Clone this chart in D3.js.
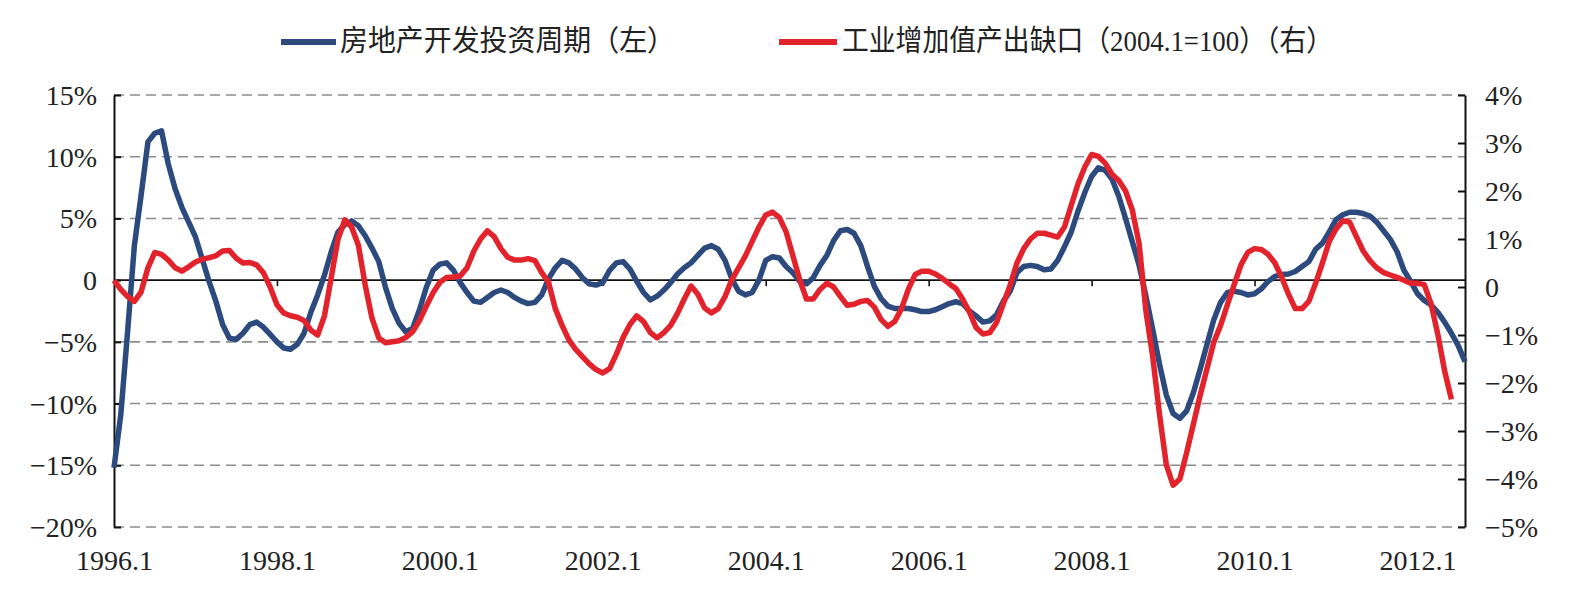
<!DOCTYPE html>
<html><head><meta charset="utf-8">
<script src="https://cdn.jsdelivr.net/npm/d3@7"></script>
<style>
html,body{margin:0;padding:0;background:#fff;}
svg{display:block;}
</style></head>
<body>
<svg id="chart" width="1586" height="598"></svg>
<script>
// ---- data (monthly, starting 1996.1) ----
const startYear = 1996;
const seriesNames = ["房地产开发投资周期（左）", "工业增加值产出缺口（2004.1=100）（右）"];
const xTickLabels = ["1996.1","1998.1","2000.1","2002.1","2004.1","2006.1","2008.1","2010.1","2012.1"];
const leftTicks = [15,10,5,0,-5,-10,-15,-20];
const rightTicks = [4,3,2,1,0,-1,-2,-3,-4,-5];

// 房地产开发投资周期 (%, left axis)
const investCycle = [
-15.2,-10.9,-4.2,2.8,6.9,11.2,11.9,12.1,9.4,7.4,5.9,4.7,
3.5,1.7,-0.1,-1.7,-3.6,-4.7,-4.8,-4.3,-3.6,-3.4,-3.8,-4.4,
-5.0,-5.5,-5.6,-5.2,-4.3,-2.6,-1.2,0.4,2.3,3.9,4.5,4.8,
4.4,3.6,2.6,1.5,-0.6,-2.3,-3.5,-4.2,-3.9,-2.4,-0.6,0.8,
1.3,1.4,0.8,-0.2,-1.0,-1.7,-1.8,-1.4,-1.0,-0.8,-1.0,-1.4,
-1.7,-1.9,-1.8,-1.2,0.1,1.0,1.6,1.4,0.9,0.2,-0.3,-0.4,
-0.2,0.8,1.4,1.5,0.9,-0.1,-1.0,-1.6,-1.3,-0.8,-0.2,0.5,
1.0,1.4,2.0,2.6,2.8,2.5,1.6,0.1,-0.9,-1.2,-1.0,0.0,
1.6,1.9,1.8,1.1,0.6,-0.1,-0.3,0.2,1.2,2.0,3.2,4.0,
4.1,3.8,2.8,1.1,-0.5,-1.5,-2.1,-2.3,-2.3,-2.3,-2.4,-2.55,
-2.55,-2.4,-2.15,-1.9,-1.75,-1.9,-2.5,-2.9,-3.4,-3.3,-2.8,-1.7,
-0.9,0.6,1.1,1.2,1.1,0.85,0.9,1.6,2.7,3.9,5.6,7.1,
8.4,9.1,8.9,8.2,6.8,5.0,3.1,1.2,-1.3,-4.0,-6.8,-9.3,
-10.8,-11.2,-10.6,-9.1,-7.2,-5.2,-3.2,-1.8,-1.0,-0.9,-1.0,-1.2,
-1.1,-0.7,-0.1,0.3,0.45,0.5,0.7,1.1,1.5,2.5,3.0,3.9,
4.9,5.3,5.5,5.5,5.4,5.2,4.7,4.0,3.3,2.3,0.8,-0.1,
-1.1,-1.65,-2.0,-2.6,-3.4,-4.3,-5.3,-6.6
];

// 工业增加值产出缺口 (%, right axis)
const outputGap = [
0.14,-0.05,-0.2,-0.3,-0.1,0.4,0.72,0.68,0.56,0.4,0.33,0.42,
0.52,0.58,0.61,0.65,0.75,0.76,0.6,0.5,0.51,0.46,0.3,0.0,
-0.37,-0.54,-0.6,-0.63,-0.7,-0.9,-1.0,-0.6,0.2,1.0,1.4,1.25,
0.87,0.04,-0.65,-1.06,-1.16,-1.14,-1.12,-1.05,-0.93,-0.7,-0.4,-0.12,
0.1,0.2,0.21,0.23,0.4,0.75,1.0,1.17,1.05,0.8,0.62,0.56,
0.56,0.59,0.55,0.3,0.1,-0.45,-0.8,-1.1,-1.3,-1.45,-1.6,-1.72,
-1.79,-1.7,-1.4,-1.05,-0.78,-0.6,-0.72,-0.95,-1.06,-0.95,-0.8,-0.55,
-0.25,0.02,-0.15,-0.44,-0.54,-0.45,-0.2,0.15,0.4,0.65,0.95,1.25,
1.5,1.56,1.45,1.15,0.65,0.15,-0.25,-0.25,-0.05,0.08,0.0,-0.2,
-0.38,-0.36,-0.3,-0.28,-0.42,-0.68,-0.82,-0.72,-0.45,-0.05,0.26,0.33,
0.33,0.27,0.18,0.07,-0.03,-0.25,-0.52,-0.85,-0.98,-0.95,-0.74,-0.35,
0.04,0.5,0.8,1.0,1.12,1.12,1.08,1.04,1.25,1.7,2.15,2.5,
2.76,2.72,2.58,2.35,2.22,2.0,1.6,0.9,-0.5,-1.45,-2.65,-3.7,
-4.13,-4.0,-3.45,-2.85,-2.25,-1.7,-1.15,-0.8,-0.37,0.05,0.46,0.72,
0.8,0.78,0.68,0.5,0.2,-0.15,-0.45,-0.45,-0.3,0.08,0.5,0.95,
1.21,1.38,1.35,1.05,0.75,0.55,0.4,0.3,0.25,0.2,0.14,0.08,
0.08,0.05,-0.35,-0.99,-1.75,-2.34
];

const colors = ["#2c4a7e", "#e2232c"];

// ---- layout ----
const svg = d3.select("#chart");
const plotLeft = 114, plotRight = 1465, plotTop = 95, plotBottom = 527;
const lastIndex = investCycle.length - 1;

const x = d3.scaleLinear().domain([0, lastIndex]).range([plotLeft, plotRight]);
const yL = d3.scaleLinear().domain([-20, 15]).range([plotBottom, plotTop]);
const yR = d3.scaleLinear().domain([-5, 4]).range([plotBottom, plotTop]);
const monthIndex = lbl => { const [yy, mm] = lbl.split(".").map(Number); return (yy - startYear) * 12 + (mm - 1); };

const FONT = "'Liberation Serif','Times New Roman','Noto Sans CJK SC',serif";

// gridlines (dashed)
svg.append("g").selectAll("line")
  .data(leftTicks.filter(d => d !== 0))
  .join("line")
  .attr("x1", plotLeft).attr("x2", plotRight)
  .attr("y1", d => yL(d)).attr("y2", d => yL(d))
  .attr("stroke", "#8c8c8c").attr("stroke-width", 1.6)
  .attr("stroke-dasharray", "10,6");

// zero line
svg.append("line")
  .attr("x1", plotLeft).attr("x2", plotRight)
  .attr("y1", yL(0)).attr("y2", yL(0))
  .attr("stroke", "#111").attr("stroke-width", 1.6);

// x ticks on the zero line
const xTickAxis = d3.axisBottom(x)
  .tickValues(xTickLabels.map(monthIndex).filter(v => v > 0))
  .tickSize(6).tickFormat("");
const gxt = svg.append("g").attr("transform", `translate(0,${yL(0)})`).call(xTickAxis);
gxt.select(".domain").remove();
gxt.selectAll(".tick line").attr("stroke", "#111").attr("stroke-width", 1.6);

// x labels
const xLabelAxis = d3.axisBottom(x)
  .tickValues(xTickLabels.map(monthIndex))
  .tickSize(0).tickPadding(0)
  .tickFormat((d, i) => xTickLabels[i]);
const gxl = svg.append("g").attr("transform", `translate(0,${plotBottom})`).call(xLabelAxis);
gxl.select(".domain").remove();
gxl.selectAll("text").attr("font-family", FONT).attr("font-size", 28)
  .attr("fill", "#222").attr("dy", null).attr("y", 33).attr("dominant-baseline", "central");

// left axis
const fmtL = d => d === 0 ? "0" : (d < 0 ? "\u2212" + Math.abs(d) : d) + "%";
const gl = svg.append("g").attr("transform", `translate(${plotLeft},0)`)
  .call(d3.axisLeft(yL).tickValues(leftTicks).tickSizeInner(-7).tickSizeOuter(0).tickPadding(17).tickFormat(fmtL));
gl.select(".domain").attr("stroke", "#111").attr("stroke-width", 2);
gl.selectAll(".tick line").attr("stroke", "#111").attr("stroke-width", 2);
gl.selectAll("text").attr("font-family", FONT).attr("font-size", 28).attr("fill", "#222")
  .attr("dy", null).attr("dominant-baseline", "central");

// right axis
const gr = svg.append("g").attr("transform", `translate(${plotRight},0)`)
  .call(d3.axisRight(yR).tickValues(rightTicks).tickSizeInner(-7).tickSizeOuter(0).tickPadding(20).tickFormat(fmtL));
gr.select(".domain").attr("stroke", "#111").attr("stroke-width", 2);
gr.selectAll(".tick line").attr("stroke", "#111").attr("stroke-width", 2);
gr.selectAll("text").attr("font-family", FONT).attr("font-size", 28).attr("fill", "#222")
  .attr("dy", null).attr("dominant-baseline", "central");

// lines
const lineL = d3.line().x((d, i) => x(i)).y(d => yL(d));
const lineR = d3.line().x((d, i) => x(i)).y(d => yR(d));
svg.append("path").datum(investCycle).attr("d", lineL)
  .attr("fill", "none").attr("stroke", colors[0]).attr("stroke-width", 5.5)
  .attr("stroke-linejoin", "round");
svg.append("path").datum(outputGap).attr("d", lineR)
  .attr("fill", "none").attr("stroke", colors[1]).attr("stroke-width", 5.5)
  .attr("stroke-linejoin", "round");

// legend
const legendItems = [
  {x0: 281, x1: 336, tx: 340, len: 335},
  {x0: 779, x1: 837, tx: 842, len: 491}
];
const lg = svg.append("g");
legendItems.forEach((it, i) => {
  lg.append("line").attr("x1", it.x0).attr("x2", it.x1).attr("y1", 42).attr("y2", 42)
    .attr("stroke", colors[i]).attr("stroke-width", 6);
  lg.append("text").attr("x", it.tx).attr("y", 41)
    .attr("dominant-baseline", "central")
    .attr("font-family", FONT).attr("font-size", 29).attr("fill", "#222")
    .attr("textLength", it.len).attr("lengthAdjust", "spacingAndGlyphs")
    .text(seriesNames[i]);
});
</script>
</body></html>
